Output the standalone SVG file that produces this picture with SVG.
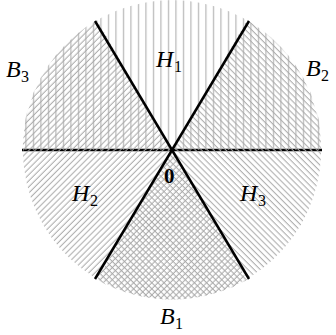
<svg xmlns="http://www.w3.org/2000/svg" width="336" height="335" viewBox="0 0 336 335">
<style>
.lbl{font-family:"Liberation Serif","DejaVu Serif",serif;font-style:italic;font-size:24px;fill:#000}
.sub{font-family:"Liberation Serif","DejaVu Serif",serif;font-size:16px;fill:#000}
.zero{font-family:"Liberation Serif","DejaVu Serif",serif;font-weight:bold;font-size:21px;fill:#000}
.hl{stroke:#a8a8a8;stroke-width:1}
.axis{stroke:#000;stroke-width:2.5;fill:none}
</style>
<defs>
<pattern id="vert" patternUnits="userSpaceOnUse" width="7.5" height="7">
<line class="hl" x1="3.5" y1="0" x2="3.5" y2="7"/>
</pattern>
<pattern id="fwd" patternUnits="userSpaceOnUse" width="4.3" height="10" patternTransform="rotate(45)">
<line class="hl" x1="2" y1="0" x2="2" y2="10"/>
</pattern>
<pattern id="bwd" patternUnits="userSpaceOnUse" width="4.3" height="10" patternTransform="rotate(-45)">
<line class="hl" x1="2" y1="0" x2="2" y2="10"/>
</pattern>
</defs>
<g id="connectors">
<line id="axis-h" class="axis" x1="22" y1="150" x2="322" y2="150"/>
</g>
<g id="regions">
<path id="upper" d="M22,150 A150,150 0 0 1 322,150 Z" fill="url(#vert)"/>
<path id="leftlow" d="M97,20.1 A150,150 0 0 0 247,279.9 Z" fill="url(#fwd)"/>
<path id="rightlow" d="M247,20.1 A150,150 0 0 1 97,279.9 Z" fill="url(#bwd)"/>
</g>
<g id="lines">
<line class="axis" x1="95" y1="21" x2="249" y2="279"/>
<line class="axis" x1="249" y1="21" x2="95" y2="279"/>
</g>
<g id="labels">
<g id="H1"><text class="lbl" x="156" y="67">H</text><text class="sub" x="174" y="72">1</text></g>
<g id="B2"><text class="lbl" x="306" y="76">B</text><text class="sub" x="321" y="81">2</text></g>
<g id="B3"><text class="lbl" x="6" y="77">B</text><text class="sub" x="21" y="82">3</text></g>
<g id="H2"><text class="lbl" x="72" y="201">H</text><text class="sub" x="90" y="206">2</text></g>
<g id="H3"><text class="lbl" x="240" y="201">H</text><text class="sub" x="258" y="206">3</text></g>
<g id="B1"><text class="lbl" x="160" y="324">B</text><text class="sub" x="175" y="329">1</text></g>
<g id="O"><text class="zero" x="164" y="183">0</text></g>
</g>
</svg>
